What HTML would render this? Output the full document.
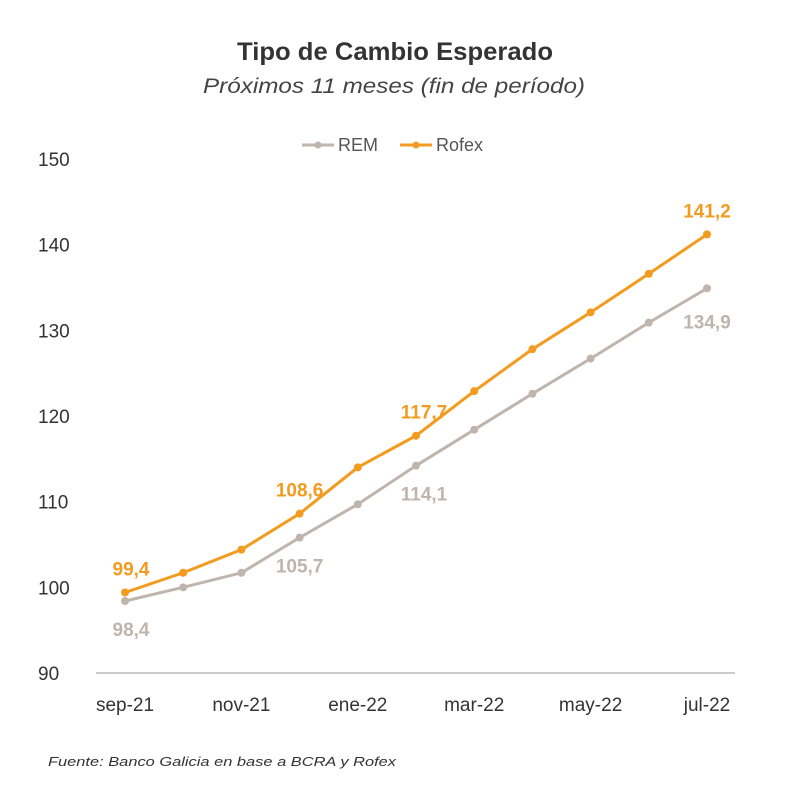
<!DOCTYPE html>
<html><head><meta charset="utf-8"><style>
body{margin:0;background:#fff;}
svg{display:block;font-family:"Liberation Sans",sans-serif;}
</style></head><body>
<svg id="chart" width="800" height="790">
<text x="237" y="60" textLength="316" lengthAdjust="spacingAndGlyphs" font-size="25" font-weight="bold" fill="#333">Tipo de Cambio Esperado</text>
<text x="203" y="93" textLength="382" lengthAdjust="spacingAndGlyphs" font-size="21" font-style="italic" fill="#444">Próximos 11 meses (fin de período)</text>
<g>
<g><line x1="302" y1="145" x2="334" y2="145" stroke="#BFB5AC" stroke-width="3"/><circle cx="318" cy="145" r="3.5" fill="#BFB5AC"/><text x="338" y="151" font-size="18" fill="#555">REM</text></g>
<g><line x1="400" y1="145" x2="432" y2="145" stroke="#F39B1E" stroke-width="3"/><circle cx="416" cy="145" r="3.5" fill="#F39B1E"/><text x="436" y="151" font-size="18" fill="#555">Rofex</text></g>
</g>
<g id="yaxis"></g><g id="xaxis"></g><g id="series"></g>
<text x="48" y="766" textLength="348" lengthAdjust="spacingAndGlyphs" font-size="13" font-style="italic" fill="#333">Fuente: Banco Galicia en base a BCRA y Rofex</text>
</svg>
<script>
const categories=["sep-21","oct-21","nov-21","dic-21","ene-22","feb-22","mar-22","abr-22","may-22","jun-22","jul-22"];
const remValues=[98.4,100.0,101.7,105.8,109.7,114.2,118.4,122.6,126.7,130.9,134.9];
const rofexValues=[99.4,101.7,104.4,108.6,114.0,117.7,122.9,127.8,132.1,136.6,141.2];
const yTicks=[90,100,110,120,130,140,150];
const remLabels=[[0,"98,4"],[3,"105,7"],[5,"114,1"],[10,"134,9"]];
const rofexLabels=[[0,"99,4"],[3,"108,6"],[5,"117,7"],[10,"141,2"]];
const NS="http://www.w3.org/2000/svg";
const y=v=>673-(v-90)*(673-159)/60;
const x=i=>125+i*58.2;
function mk(tag,attrs,parent,text){const e=document.createElementNS(NS,tag);for(const k in attrs)e.setAttribute(k,attrs[k]);if(text!==undefined)e.textContent=text;parent.appendChild(e);return e;}
const ya=document.getElementById('yaxis'),xa=document.getElementById('xaxis'),se=document.getElementById('series');
yTicks.forEach(t=>{const e=mk('text',{x:38,y:y(t)+7,'font-size':19,fill:'#333'},ya,String(t));

});
const ax=mk('line',{x1:96,y1:673,x2:735,y2:673,stroke:'#bbb','stroke-width':1.5},xa);


categories.forEach((c,i)=>{if(i%2===0){const e=mk('text',{x:x(i),y:711,'text-anchor':'middle','font-size':19,fill:'#333'},xa,c);

}});
function draw(vals,color,name,labels,dy){
const p=mk('polyline',{points:vals.map((v,i)=>x(i)+','+y(v)).join(' '),fill:'none',stroke:color,'stroke-width':3},se);


vals.forEach((v,i)=>{const c=mk('circle',{cx:x(i),cy:y(v),r:4,fill:color},se);

});
labels.forEach(([i,t])=>{const l=mk('text',{x:x(i)+(i===0?6:i===5?8:0),y:y(vals[i])+dy+(name==='rem'&&i===10?5:0),'text-anchor':'middle','font-size':19,'font-weight':'bold',fill:color},se,t);

});
}
draw(remValues,'#BFB5AC','rem',remLabels,35);
draw(rofexValues,'#F39B1E','rofex',rofexLabels,-17);
</script>
</body></html>
